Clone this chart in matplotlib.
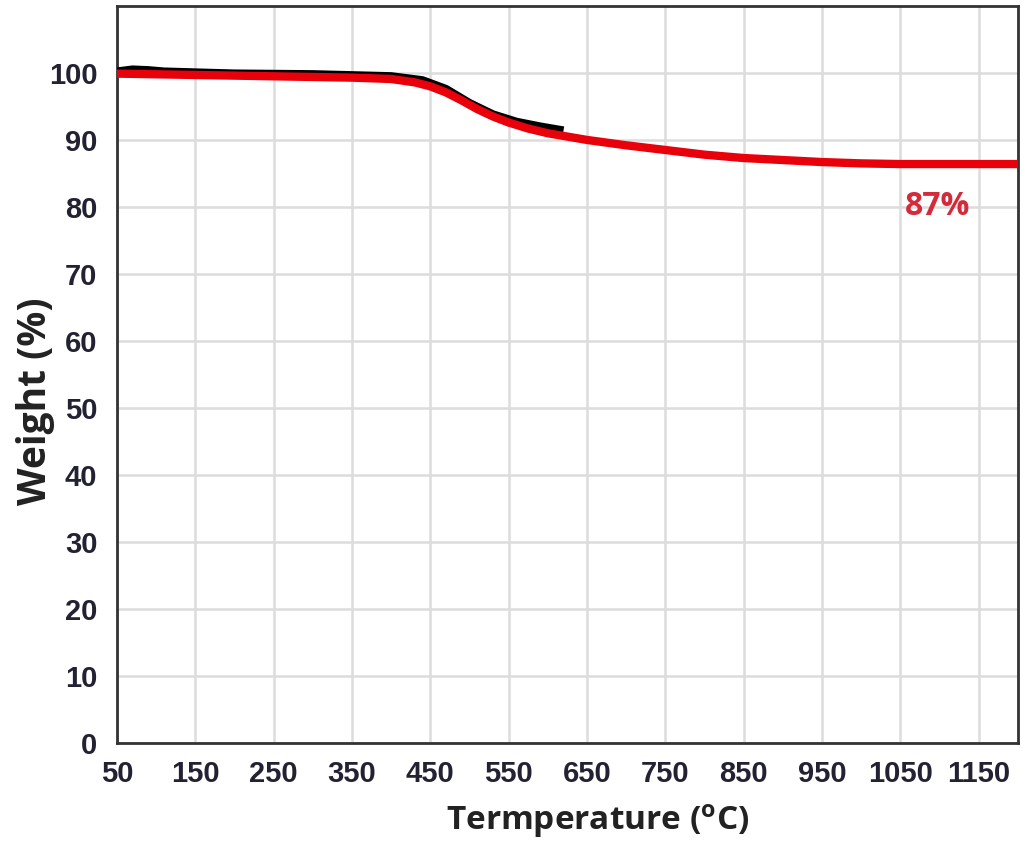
import numpy as np
import matplotlib.pyplot as plt

# TGA curves
temp_red = [50, 100, 200, 300, 350, 400, 430, 450, 470, 490, 510, 530, 550, 575,
            600, 650, 700, 750, 800, 850, 900, 950, 1000, 1050, 1100, 1150, 1200]
weight_red = [99.9, 99.8, 99.6, 99.4, 99.3, 99.1, 98.6, 98.0, 97.1, 95.9, 94.6, 93.5,
              92.6, 91.7, 91.0, 90.0, 89.2, 88.5, 87.8, 87.3, 87.0, 86.7, 86.5, 86.4,
              86.4, 86.4, 86.4]

temp_black = [50, 70, 90, 110, 200, 300, 400, 440, 470, 500, 530, 560, 590, 620]
weight_black = [100.2, 100.5, 100.4, 100.2, 99.9, 99.8, 99.5, 98.9, 97.6, 95.5,
                93.8, 92.7, 92.0, 91.4]

xticks = list(range(50, 1151, 100))
yticks = list(range(0, 101, 10))

plt.rcParams['mathtext.fontset'] = 'custom'
plt.rcParams['mathtext.rm'] = 'Open Sans:bold'

fig = plt.figure(figsize=(10.34, 8.5), dpi=100)
ax = fig.add_axes([0.113, 0.126, 0.8715, 0.867])

ax.plot(temp_black, weight_black, color='black', lw=6, solid_capstyle='butt', zorder=3)
ax.plot(temp_red, weight_red, color='#e8000b', lw=6, solid_capstyle='butt', zorder=4)

ax.text(1097, 80, '87%', color='#d42a3a', fontsize=23, family='Open Sans',
        fontweight='bold', ha='center', va='center')

ax.set_xlim(50, 1200)
ax.set_ylim(0, 110)
ax.set_xticks(xticks)
ax.set_yticks(yticks)
ax.grid(True, color='#dcdcdc', lw=1.8)
ax.set_axisbelow(True)
ax.tick_params(length=0, labelsize=21, labelcolor='#222233')
ax.tick_params(axis='x', pad=12)
ax.tick_params(axis='y', pad=14)
for lab in ax.get_xticklabels() + ax.get_yticklabels():
    lab.set_family(['Liberation Sans', 'DejaVu Sans'])
    lab.set_fontweight('bold')
for sp in ax.spines.values():
    sp.set_color('#333333')
    sp.set_linewidth(2)

ax.set_xlabel('Termperature ($\\mathrm{{}^{o}}$C)', fontsize=24, family='Open Sans',
              fontweight='bold', color='#222222')
ax.set_ylabel('Weight (%)', fontsize=28, family='Open Sans',
              fontweight='bold', color='#222222')
ax.xaxis.set_label_coords(0.534, -0.08)
ax.yaxis.set_label_coords(-0.069, 0.464)

fig.savefig('out.png', dpi=100)
